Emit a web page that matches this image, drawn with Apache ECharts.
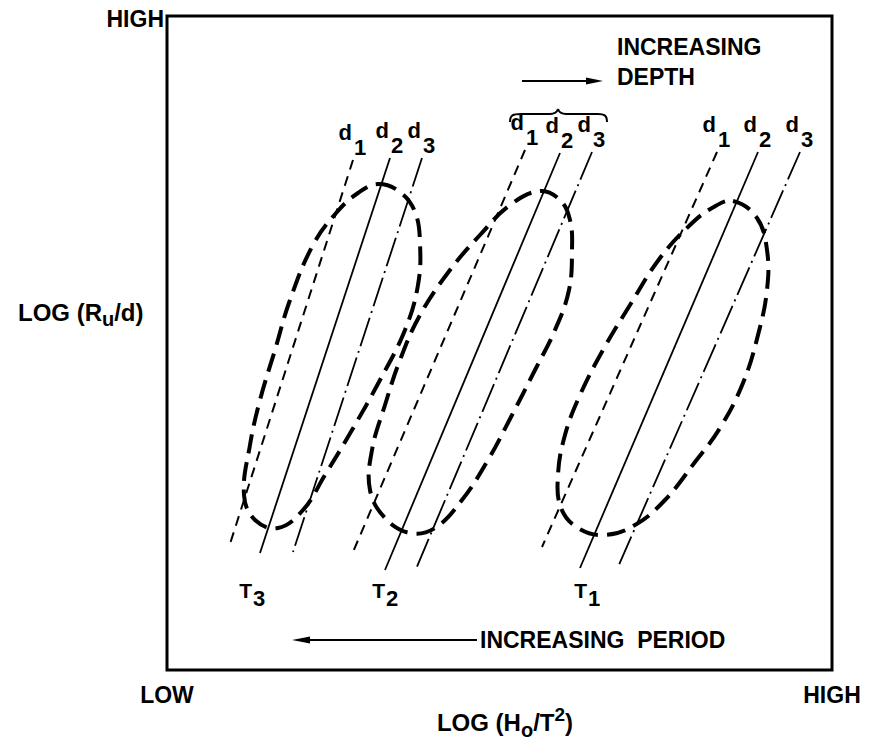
<!DOCTYPE html>
<html>
<head>
<meta charset="utf-8">
<script src="https://cdn.jsdelivr.net/npm/echarts@6/dist/echarts.min.js"></script>
<style>
  html, body { margin: 0; padding: 0; background: #fff; }
  #chart { width: 873px; height: 748px; }
</style>
</head>
<body>
<div id="chart"></div>
<script>
// Schematic axes in relative units: LOG(Ho/T^2) across, LOG(Ru/d) up.
const X_MAX = 665;
const Y_MAX = 654;

// Period groups from left to right and the depth index of each line
const periodTags = ['3', '2', '1'];
const depthTags = ['1', '2', '3'];

// Constant-depth lines (d1, d2, d3) of each period: [upper end, lower end]
const linesT3 = [[[186, 510], [62, 123]], [[223, 512], [93, 117]], [[255, 512], [126, 118]]];
const linesT2 = [[[358, 520], [186, 118]], [[393, 517], [218, 100]], [[425, 518], [249, 101]]];
const linesT1 = [[[550, 518], [375, 123]], [[591, 518], [413, 102]], [[633, 518], [451, 103]]];

// Outline of the data envelope of each period (closed, clockwise from the top)
const ellipseT3 = [[211, 486], [233, 478], [248, 458], [253, 427], [251, 385], [238, 340], [213, 290], [185, 240],
  [158, 195], [136, 160], [111, 142], [88, 150], [77, 175], [83, 225], [93, 270], [108, 320], [123, 370],
  [146, 425], [170, 458], [191, 477]];
const ellipseT2 = [[373, 479], [393, 470], [403, 450], [405, 420], [402, 380], [388, 340], [368, 300], [345, 255],
  [321, 210], [295, 170], [268, 142], [243, 137], [218, 152], [203, 180], [205, 220], [218, 265], [233, 310],
  [253, 355], [283, 400], [313, 435], [343, 465]];
const ellipseT1 = [[566, 469], [590, 452], [600, 420], [600, 380], [591, 335], [576, 287], [553, 242], [528, 208],
  [498, 170], [468, 145], [438, 135], [411, 142], [394, 162], [391, 195], [398, 235], [413, 275], [436, 320],
  [463, 365], [493, 412], [523, 445], [545, 462]];

// Where the period tags T3, T2, T1 sit
const periodLabelX = [85, 218, 420];
const periodLabelY = 80;

const lineGroups = [linesT3, linesT2, linesT1];
const ellipses = [ellipseT3, ellipseT2, ellipseT1];

const FONT = '"Liberation Sans", Arial, sans-serif';
const font = (size) => `bold ${size}px ${FONT}`;

const depthStyles = [
  { width: 2, type: [10, 7] },          // d1 dashed
  { width: 1.8, type: 'solid' },        // d2 solid
  { width: 1.8, type: [30, 5, 2, 5] }   // d3 dash-dot
];

const series = [];
lineGroups.forEach((group, g) => {
  group.forEach((seg, d) => {
    series.push({
      type: 'line',
      name: 'T' + periodTags[g] + ' d' + depthTags[d],
      data: seg,
      symbol: 'none',
      silent: true,
      animation: false,
      lineStyle: { color: '#000', width: depthStyles[d].width, type: depthStyles[d].type, cap: 'butt' }
    });
  });
});

// Envelopes drawn as smooth closed dashed outlines
series.push({
  type: 'custom',
  name: 'envelopes',
  silent: true,
  animation: false,
  data: ellipses.map((e, i) => [e[0][0], e[0][1], i]),
  renderItem: function (params, api) {
    const pts = ellipses[params.dataIndex].map(p => api.coord(p));
    return {
      type: 'polygon',
      shape: { points: pts, smooth: 0.4 },
      style: { fill: 'none', stroke: '#000', lineWidth: 4, lineDash: [19, 9] }
    };
  }
});

// d1, d2, d3 tags over the upper end of every line
const depthLabelData = [];
lineGroups.forEach(group => group.forEach((seg, d) => depthLabelData.push([seg[0][0], seg[0][1], d])));
series.push({
  type: 'custom',
  name: 'depth tags',
  silent: true,
  animation: false,
  data: depthLabelData,
  renderItem: function (params, api) {
    const p = api.coord([api.value(0), api.value(1)]);
    const d = api.value(2);
    return {
      type: 'group',
      children: [
        { type: 'text', x: p[0] - 1, y: p[1] - 28,
          style: { text: 'd', font: font(22), fill: '#000', align: 'right', verticalAlign: 'middle' } },
        { type: 'text', x: p[0] + 1, y: p[1] - 13,
          style: { text: depthTags[d], font: font(22), fill: '#000', align: 'left', verticalAlign: 'middle' } }
      ]
    };
  }
});

// T3, T2, T1 tags under each group
series.push({
  type: 'custom',
  name: 'period tags',
  silent: true,
  animation: false,
  data: periodLabelX.map((x, i) => [x, periodLabelY, i]),
  renderItem: function (params, api) {
    const p = api.coord([api.value(0), api.value(1)]);
    const i = api.value(2);
    return {
      type: 'group',
      children: [
        { type: 'text', x: p[0], y: p[1],
          style: { text: 'T', font: font(21), fill: '#000', align: 'right', verticalAlign: 'middle' } },
        { type: 'text', x: p[0] + 1, y: p[1] + 8,
          style: { text: periodTags[i], font: font(22), fill: '#000', align: 'left', verticalAlign: 'middle' } }
      ]
    };
  }
});

// Text runs with sub/superscripts, laid out with measured widths
const measureCtx = document.createElement('canvas').getContext('2d');
function textWidth(str, size) {
  measureCtx.font = font(size);
  return measureCtx.measureText(str).width;
}
function textRun(parts, x, y, anchor) {
  const total = parts.reduce((s, p) => s + textWidth(p[0], p[1]), 0);
  let cx = anchor === 'center' ? x - total / 2 : x;
  return parts.map(p => {
    const el = {
      type: 'text', x: cx, y: y + p[2], silent: true,
      style: { text: p[0], font: font(p[1]), fill: '#000', align: 'left', verticalAlign: 'middle',
               textAlign: 'left', textVerticalAlign: 'middle' }
    };
    cx += textWidth(p[0], p[1]);
    return el;
  });
}
function label(text, x, y, align, size) {
  return {
    type: 'text', x: x, y: y, silent: true,
    style: { text: text, font: font(size || 23), fill: '#000', align: align, verticalAlign: 'middle',
             textAlign: align, textVerticalAlign: 'middle' }
  };
}

const graphics = [
  label('HIGH', 164, 19, 'right'),
  label('LOW', 167, 695, 'center'),
  label('HIGH', 832, 695, 'center'),
  ...textRun([['LOG (R', 24, 0], ['u', 20, 7], ['/d)', 24, 0]], 18, 312, 'left'),
  ...textRun([['LOG (H', 24, 0], ['o', 20, 8], ['/T', 24, 0], ['2', 19, -8], [')', 24, 0]], 505, 722, 'center'),
  // increasing period arrow
  label('INCREASING  PERIOD', 480, 640, 'left'),
  { type: 'line', silent: true, shape: { x1: 300, y1: 640, x2: 477, y2: 640 }, style: { stroke: '#000', lineWidth: 2 } },
  { type: 'polygon', silent: true, shape: { points: [[292, 640], [310, 636.5], [310, 643.5]] }, style: { fill: '#000' } },
  // increasing depth arrow
  label('INCREASING', 617, 47, 'left'),
  label('DEPTH', 617, 77, 'left'),
  { type: 'line', silent: true, shape: { x1: 522, y1: 81, x2: 595, y2: 81 }, style: { stroke: '#000', lineWidth: 2 } },
  { type: 'polygon', silent: true, shape: { points: [[603, 81], [586, 77.5], [586, 84.5]] }, style: { fill: '#000' } },
  // brace over the middle d1 d2 d3
  { type: 'bezierCurve', silent: true, shape: { x1: 510, y1: 122, cpx1: 510, cpy1: 115, cpx2: 513, cpy2: 114, x2: 521, y2: 114 },
    style: { stroke: '#000', lineWidth: 2, fill: 'none' } },
  { type: 'line', silent: true, shape: { x1: 521, y1: 114, x2: 550, y2: 114 }, style: { stroke: '#000', lineWidth: 2 } },
  { type: 'bezierCurve', silent: true, shape: { x1: 550, y1: 114, cpx1: 555, cpy1: 114, cpx2: 557, cpy2: 112, x2: 558, y2: 109 },
    style: { stroke: '#000', lineWidth: 2, fill: 'none' } },
  { type: 'bezierCurve', silent: true, shape: { x1: 558, y1: 109, cpx1: 559, cpy1: 112, cpx2: 561, cpy2: 114, x2: 566, y2: 114 },
    style: { stroke: '#000', lineWidth: 2, fill: 'none' } },
  { type: 'line', silent: true, shape: { x1: 566, y1: 114, x2: 598, y2: 114 }, style: { stroke: '#000', lineWidth: 2 } },
  { type: 'bezierCurve', silent: true, shape: { x1: 598, y1: 114, cpx1: 604, cpy1: 114, cpx2: 607, cpy2: 115, x2: 607, y2: 122 },
    style: { stroke: '#000', lineWidth: 2, fill: 'none' } }
];

const chart = echarts.init(document.getElementById('chart'), null, { renderer: 'svg' });
chart.setOption({
  animation: false,
  backgroundColor: '#fff',
  grid: { left: 167, top: 16, right: 41, bottom: 78, show: true, borderColor: '#000', borderWidth: 3, backgroundColor: 'transparent' },
  xAxis: { type: 'value', min: 0, max: X_MAX, axisLine: { show: false }, axisTick: { show: false },
           axisLabel: { show: false }, splitLine: { show: false } },
  yAxis: { type: 'value', min: 0, max: Y_MAX, axisLine: { show: false }, axisTick: { show: false },
           axisLabel: { show: false }, splitLine: { show: false } },
  series: series,
  graphic: { elements: graphics }
});
</script>
</body>
</html>
